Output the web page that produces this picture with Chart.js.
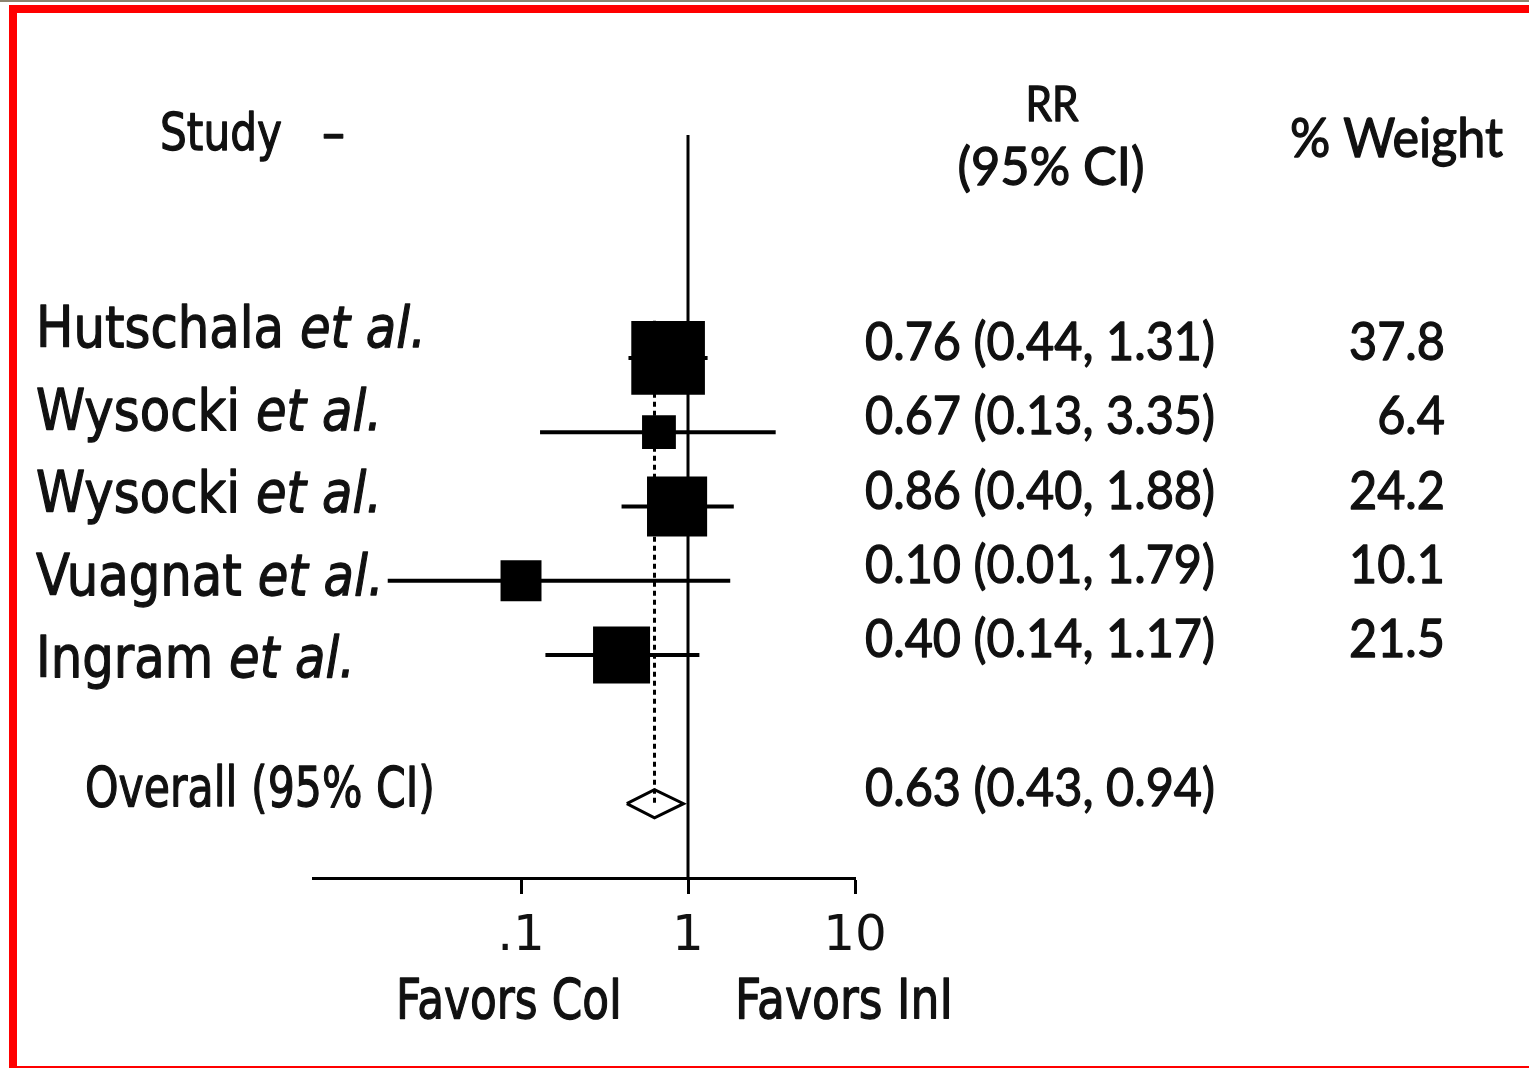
<!DOCTYPE html>
<html>
<head>
<meta charset="utf-8">
<script src="https://cdn.jsdelivr.net/npm/chart.js@4.4.0/dist/chart.umd.min.js"></script>
<style>
  html, body { margin: 0; padding: 0; background: #fff; }
  body { width: 1529px; height: 1069px; position: relative; overflow: hidden; }
  #topline { position: absolute; left: 0; top: 0; width: 1529px; height: 2px; background: #8c8470; }
  #frame { position: absolute; left: 9px; top: 5px; right: 0; bottom: 1px;
           border-top: 8px solid #ff0000; border-left: 8px solid #ff0000; border-bottom: 2px solid #ff0000; }
  canvas { position: absolute; left: 0; top: 0; }
</style>
</head>
<body>
<div id="topline"></div>
<div id="frame"></div>
<canvas id="forest" width="1529" height="1069"></canvas>
<script>
// study data
const studies = ['Hutschala', 'Wysocki', 'Wysocki', 'Vuagnat', 'Ingram'];
const rr = [0.76, 0.67, 0.86, 0.10, 0.40];
const ciLow = [0.44, 0.13, 0.40, 0.01, 0.14];
const ciHigh = [1.31, 3.35, 1.88, 1.79, 1.17];
const weights = [37.8, 6.4, 24.2, 10.1, 21.5];

// pooled estimate
const overallRR = 0.63;
const overallLow = 0.43;
const overallHigh = 0.94;

// axis
const tickValues = [0.1, 1, 10];
const tickLabels = ['.1', '1', '10'];

const rows = studies.map((s, i) => i + 1);
const overallRow = 7;

const LABEL_FONT = "'DejaVu Sans', sans-serif";
const NUM_FONT = "Lato, 'Liberation Sans', sans-serif";
const INK = '#111';

// draw text squeezed horizontally to a given scale, with a light stroke to mimic the scan
function fitText(ctx, text, x, y, font, sx, align) {
    ctx.save();
    ctx.font = font;
    const w = ctx.measureText(text).width * sx;
    let left = x;
    if (align === 'right') left = x - w;
    else if (align === 'center') left = x - w / 2;
    ctx.translate(left, y);
    ctx.scale(sx, 1);
    ctx.textAlign = 'left';
    ctx.textBaseline = 'alphabetic';
    ctx.fillStyle = INK;
    ctx.strokeStyle = INK;
    ctx.lineWidth = 1.3;
    ctx.lineJoin = 'round';
    ctx.fillText(text, 0, 0);
    ctx.strokeText(text, 0, 0);
    ctx.restore();
    return w;
}

function scaleFor(ctx, text, font, width) {
    ctx.font = font;
    return width / ctx.measureText(text).width;
}

const fmt = (v) => v.toFixed(2);

const textPlugin = {
    id: 'forestText',
    afterDatasetsDraw(chart) {
        const ctx = chart.ctx;
        const yScale = chart.scales.y;

        // headers
        let f = `51px ${LABEL_FONT}`;
        fitText(ctx, 'Study', 160, 150, f, scaleFor(ctx, 'Study', f, 122));
        fitText(ctx, '\u2013', 322, 150, f, scaleFor(ctx, '\u2013', f, 23));

        f = `49px ${NUM_FONT}`;
        fitText(ctx, 'RR', 1052, 121, f, scaleFor(ctx, 'RR', f, 53), 'center');
        f = `52px ${NUM_FONT}`;
        fitText(ctx, '(95% CI)', 1051, 185, f, scaleFor(ctx, '(95% CI)', f, 187), 'center');
        f = `54px ${NUM_FONT}`;
        fitText(ctx, '% Weight', 1290, 157, f, scaleFor(ctx, '% Weight', f, 213));

        // study labels, name upright and "et al." italic
        const nf = `57px ${LABEL_FONT}`;
        const itf = `italic 57px ${LABEL_FONT}`;
        ctx.font = nf;
        const w0 = ctx.measureText(studies[0] + ' ').width;
        ctx.font = itf;
        const w1 = ctx.measureText('et al.').width;
        const lsx = 390 / (w0 + w1);
        studies.forEach((name, i) => {
            const base = 347 + i * 82.5;
            ctx.font = nf;
            const a = ctx.measureText(name + ' ').width * lsx;
            ctx.font = itf;
            const b = ctx.measureText('et al.').width * lsx;
            ctx.fillStyle = '#fff';
            ctx.fillRect(18, base - 48, a + b + 22, 68);
            fitText(ctx, name + ' ', 36, base, nf, lsx);
            fitText(ctx, 'et al.', 36 + a, base, itf, lsx);
        });

        f = `55px ${LABEL_FONT}`;
        fitText(ctx, 'Overall (95% CI)', 85, 806, f, scaleFor(ctx, 'Overall (95% CI)', f, 350));

        // RR column and weights
        const rf = `53px ${NUM_FONT}`;
        const firstRow = `${fmt(rr[0])} (${fmt(ciLow[0])}, ${fmt(ciHigh[0])})`;
        const nsx = scaleFor(ctx, firstRow, rf, 350);
        rows.forEach((r, i) => {
            const base = yScale.getPixelForValue(r) + 2;
            fitText(ctx, `${fmt(rr[i])} (${fmt(ciLow[i])}, ${fmt(ciHigh[i])})`, 865, base, rf, nsx);
            fitText(ctx, weights[i].toFixed(1), 1445, base, rf, nsx, 'right');
        });
        fitText(ctx, `${fmt(overallRR)} (${fmt(overallLow)}, ${fmt(overallHigh)})`, 865,
            yScale.getPixelForValue(overallRow) + 2, rf, nsx);

        // favours labels
        f = `55px ${LABEL_FONT}`;
        fitText(ctx, 'Favors CoI', 396, 1018, f, scaleFor(ctx, 'Favors CoI', f, 226));
        fitText(ctx, 'Favors InI', 735, 1018, f, scaleFor(ctx, 'Favors InI', f, 218));
    }
};

const lineStyle = { showLine: true, borderColor: '#000', borderWidth: 4, pointRadius: 0, fill: false };

const datasets = [];

// box side grows with the square root of the weight
datasets.push({
    label: 'RR',
    data: rows.map((r, i) => ({ x: rr[i], y: r })),
    pointStyle: 'rect',
    pointRadius: weights.map(w => (11 * Math.sqrt(w) + 6) / Math.SQRT2),
    backgroundColor: '#000',
    borderColor: '#000',
    borderWidth: 0,
    order: 0
});

rows.forEach((r, i) => {
    datasets.push({
        label: 'CI ' + studies[i],
        data: [{ x: ciLow[i], y: r }, { x: ciHigh[i], y: r }],
        ...lineStyle,
        order: 1
    });
});

const diamondHalf = 0.19;
datasets.push({
    label: 'Overall',
    data: [
        { x: overallLow, y: overallRow },
        { x: overallRR, y: overallRow - diamondHalf },
        { x: overallHigh, y: overallRow },
        { x: overallRR, y: overallRow + diamondHalf },
        { x: overallLow, y: overallRow }
    ],
    ...lineStyle,
    borderWidth: 3,
    order: 0
});

datasets.push({
    label: 'No effect',
    data: [{ x: 1, y: -2 }, { x: 1, y: 8 }],
    ...lineStyle,
    borderWidth: 3,
    order: 2
});

datasets.push({
    label: 'Pooled',
    data: [{ x: overallRR, y: 0.5 }, { x: overallRR, y: overallRow }],
    ...lineStyle,
    borderWidth: 3,
    borderDash: [5, 4],
    order: 2
});

new Chart(document.getElementById('forest'), {
    type: 'scatter',
    data: { datasets },
    options: {
        responsive: false,
        animation: false,
        layout: { padding: { left: 313, right: 674, top: 135, bottom: 71 } },
        plugins: { legend: { display: false }, tooltip: { enabled: false } },
        scales: {
            x: {
                type: 'logarithmic',
                bounds: 'data',
                min: 0.00568,
                max: 10,
                afterBuildTicks: (s) => { s.ticks = tickValues.map(v => ({ value: v })); },
                afterFit: (s) => { s.height = 120; },
                border: { display: true, color: '#000', width: 3 },
                grid: { display: true, drawOnChartArea: false, drawTicks: true, tickLength: 16, tickWidth: 3, tickColor: '#000' },
                ticks: {
                    autoSkip: false,
                    maxRotation: 0,
                    padding: 13,
                    color: '#111',
                    font: { family: 'DejaVu Sans', size: 50 },
                    callback: (v) => {
                        const k = tickValues.findIndex(t => Math.abs(t - v) < 1e-9);
                        return k >= 0 ? tickLabels[k] : '';
                    }
                }
            },
            y: { type: 'linear', reverse: true, min: -2, max: 8, display: false }
        }
    },
    plugins: [textPlugin]
});
</script>
</body>
</html>
